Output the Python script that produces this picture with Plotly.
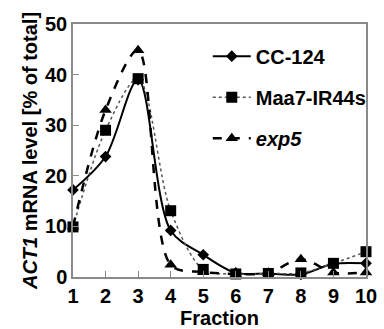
import plotly.graph_objects as go

fractions = [1, 2, 3, 4, 5, 6, 7, 8, 9, 10]
cc124 = [17.2, 23.8, 39.0, 9.2, 4.4, 0.8, 0.7, 0.5, 2.6, 2.7]
maa7 = [9.9, 29.0, 39.2, 13.1, 1.5, 0.6, 0.7, 0.8, 2.7, 5.0]
exp5 = [10.0, 33.0, 44.8, 2.4, 1.0, 0.6, 0.8, 3.5, 0.9, 0.9]
names = ["CC-124", "Maa7-IR44s", "<i>exp5</i>"]

FONT = 'Arial, "Liberation Sans", sans-serif'

fig = go.Figure()
fig.add_trace(go.Scatter(
    x=fractions, y=cc124, name=names[0], legendgroup="a",
    mode="lines+markers", line=dict(color="black", width=2, shape="spline", smoothing=0.9),
    marker=dict(symbol="diamond", size=9, color="black"), cliponaxis=False))
fig.add_trace(go.Scatter(
    x=fractions, y=maa7, name=names[1], legendgroup="b",
    mode="lines+markers", line=dict(color="#555", width=1.5, dash="dot", shape="spline", smoothing=0.9),
    marker=dict(symbol="square", size=11, color="black"), cliponaxis=False))
fig.add_trace(go.Scatter(
    x=fractions, y=exp5, name=names[2], legendgroup="c",
    mode="lines+markers", line=dict(color="black", width=2.5, dash="dash", shape="spline", smoothing=0.9),
    marker=dict(symbol="triangle-up", size=11, color="black"), cliponaxis=False))

axis_col = "#8a8a8a"
fig.update_layout(
    width=384, height=329,
    margin=dict(l=73, r=12, t=24, b=52),
    paper_bgcolor="white", plot_bgcolor="white",
    font=dict(family=FONT, size=20, color="black", weight="bold"),
    legend=dict(x=0.46, y=0.95, xanchor="left", yanchor="top", bgcolor="rgba(0,0,0,0)",
                tracegroupgap=12, traceorder="grouped", itemwidth=38,
                font=dict(family=FONT, size=20, weight="bold")),
    xaxis=dict(range=[1, 10], tickvals=fractions, ticks="inside", ticklen=6, tickcolor=axis_col,
               showline=True, linecolor=axis_col, linewidth=1.5, mirror=True, showgrid=False,
               zeroline=False, automargin=False,
               title=dict(text="Fraction", standoff=2, font=dict(family=FONT, size=20, weight="bold")),
               tickfont=dict(family=FONT, size=20, weight="bold")),
    yaxis=dict(range=[0, 50], dtick=10, ticks="inside", ticklen=6, tickcolor=axis_col,
               showline=True, linecolor=axis_col, linewidth=1.5, mirror=True, showgrid=False,
               zeroline=False, automargin=False,
               title=dict(text="<i>ACT1</i> mRNA level [% of total]", standoff=2,
                          font=dict(family=FONT, size=20, weight="bold")),
               tickfont=dict(family=FONT, size=20, weight="bold")),
)
fig.write_html("out.html", config={"displayModeBar": False},
               post_script="document.body.style.margin='0px';")
